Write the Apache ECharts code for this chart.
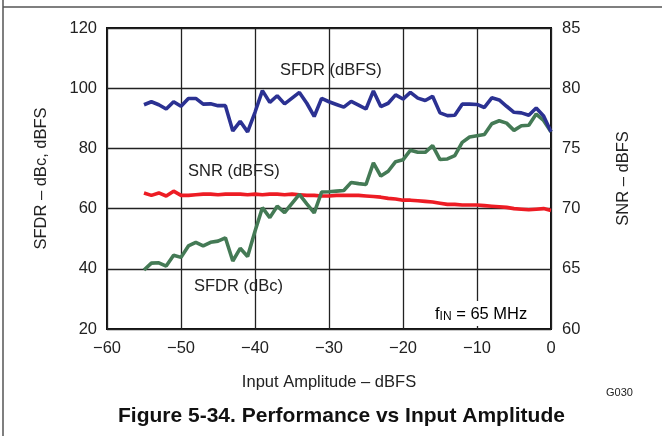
<!DOCTYPE html>
<html>
<head>
<meta charset="utf-8">
<script src="https://cdn.jsdelivr.net/npm/echarts@6/dist/echarts.min.js"></script>
<style>
html, body { margin: 0; padding: 0; background: #fff; }
#main { width: 662px; height: 436px; }
</style>
</head>
<body>
<div id="main"></div>
<script>
// input amplitude, dBFS
var amplitude = [-55, -54, -53, -52, -51, -50, -49, -48, -47, -46, -45, -44, -43, -42, -41, -40,
  -39, -38, -37, -36, -35, -34, -33, -32, -31, -30, -29, -28, -27, -26, -25, -24, -23, -22, -21, -20,
  -19, -18, -17, -16, -15, -14, -13, -12, -11, -10, -9, -8, -7, -6, -5, -4, -3, -2, -1, 0];

// SFDR (dBFS), left axis
var sfdrDbfs = [94.5, 95.5, 94.5, 93.1, 95.5, 94, 96.6, 96.6, 94.7, 94.8, 94.2, 94.2, 85.8, 89, 85.5, 92,
  99.2, 95.3, 97.5, 94.8, 96.7, 98.6, 95, 90.6, 96.6, 95.5, 94.6, 93.7, 95.6, 94.4, 93.1, 99.1, 93.9, 95, 97.8, 96.4,
  98.6, 96.7, 95.9, 97.3, 91.8, 90.9, 91, 94.7, 94.7, 94.6, 93.6, 96.8, 96.1, 94, 92, 91.8, 91, 93.4, 90.8, 85.5];

// SFDR (dBc), left axis
var sfdrDbc = [39.6, 41.9, 42, 40.9, 44.5, 43.8, 47.6, 48.8, 47.6, 48.8, 49.2, 50.3, 42.6, 46.8, 44.1, 52.5,
  60.3, 57, 60.8, 58.7, 61.7, 64.7, 61.6, 58.6, 65.5, 65.6, 65.8, 66, 68.7, 68.3, 68, 75.2, 70.8, 72.4, 75.6, 76.2,
  79.4, 78.7, 78.7, 80.9, 76.3, 76.5, 77.6, 82, 83.8, 84.2, 84.6, 88.2, 89.2, 88.4, 86, 87.5, 87.7, 91.4, 89.3, 85.5];

// SNR (dBFS), right axis
var snr = [71.3, 71.1, 71.3, 71.05, 71.45, 71.1, 71.1, 71.15, 71.2, 71.2, 71.15, 71.2, 71.2, 71.2, 71.15, 71.2,
  71.15, 71.2, 71.2, 71.15, 71.2, 71.15, 71.1, 71.1, 71.05, 71.05, 71.1, 71.1, 71.1, 71.1, 71.05, 71.0, 70.95, 70.85, 70.8, 70.7,
  70.7, 70.65, 70.6, 70.55, 70.45, 70.35, 70.35, 70.3, 70.3, 70.3, 70.25, 70.2, 70.15, 70.1, 70.0, 69.95, 69.9, 69.95, 70.0, 69.85];

function pairs(ys) {
  return amplitude.map(function (x, i) { return [x, ys[i]]; });
}

var font = 'Liberation Sans, Arial, Helvetica, sans-serif';
var fs = 16.5;
function minus(v) { return String(v).replace('-', '\u2212'); }

var option = {
  animation: false,
  backgroundColor: '#fff',
  grid: {
    left: 107,
    right: 111,
    top: 28,
    bottom: 107,
    show: true,
    borderColor: '#111',
    borderWidth: 2
  },
  xAxis: {
    type: 'value',
    min: -60,
    max: 0,
    interval: 10,
    name: 'Input Amplitude \u2013 dBFS',
    nameLocation: 'middle',
    nameGap: 45,
    nameTextStyle: { fontFamily: font, fontSize: fs, color: '#222' },
    axisLine: { show: false },
    axisTick: { show: false },
    axisLabel: { fontFamily: font, fontSize: fs, color: '#222', margin: 11, formatter: minus },
    splitLine: { lineStyle: { color: '#222', width: 1.3 } }
  },
  yAxis: [{
    type: 'value',
    min: 20,
    max: 120,
    interval: 20,
    name: 'SFDR \u2013 dBc, dBFS',
    nameLocation: 'middle',
    nameGap: 57,
    nameTextStyle: { fontFamily: font, fontSize: fs, color: '#222' },
    axisLine: { show: false },
    axisTick: { show: false },
    axisLabel: { fontFamily: font, fontSize: fs, color: '#222', margin: 10 },
    splitLine: { lineStyle: { color: '#222', width: 1.3 } }
  }, {
    type: 'value',
    min: 60,
    max: 85,
    interval: 5,
    name: 'SNR \u2013 dBFS',
    nameLocation: 'middle',
    nameGap: 64,
    nameRotate: 90,
    nameTextStyle: { fontFamily: font, fontSize: fs, color: '#222' },
    axisLine: { show: false },
    axisTick: { show: false },
    axisLabel: { fontFamily: font, fontSize: fs, color: '#222', margin: 11 },
    splitLine: { show: false }
  }],
  series: [{
    name: 'SNR (dBFS)',
    type: 'line',
    yAxisIndex: 1,
    data: pairs(snr),
    showSymbol: false,
    lineStyle: { color: '#ed1c24', width: 3.6 },
    z: 2
  }, {
    name: 'SFDR (dBc)',
    type: 'line',
    yAxisIndex: 0,
    data: pairs(sfdrDbc),
    showSymbol: false,
    lineStyle: { color: '#447a55', width: 3.6 },
    z: 3
  }, {
    name: 'SFDR (dBFS)',
    type: 'line',
    yAxisIndex: 0,
    data: pairs(sfdrDbfs),
    showSymbol: false,
    lineStyle: { color: '#2b3192', width: 3.6 },
    z: 4
  }],
  graphic: [
    { type: 'line', shape: { x1: 3, y1: 0, x2: 3, y2: 436 }, style: { stroke: '#555', lineWidth: 1.5 } },
    { type: 'line', shape: { x1: 3, y1: 7, x2: 662, y2: 7 }, style: { stroke: '#555', lineWidth: 1.5 } },
    { type: 'text', left: 280, top: 62, style: { text: 'SFDR (dBFS)', font: fs + 'px ' + font, fill: '#222' } },
    { type: 'text', left: 188, top: 163, style: { text: 'SNR (dBFS)', font: fs + 'px ' + font, fill: '#222' } },
    { type: 'text', left: 194, top: 278, style: { text: 'SFDR (dBc)', font: fs + 'px ' + font, fill: '#222' } },
    { type: 'text', left: 431, top: 301, z: 10, style: {
        text: '{a|f}{b|IN}{a| = 65 MHz}',
        backgroundColor: '#fff',
        padding: [2, 4, 3, 4],
        rich: {
          a: { fontFamily: font, fontSize: fs, color: '#222', lineHeight: 20, verticalAlign: 'bottom' },
          b: { fontFamily: font, fontSize: 12, color: '#222', lineHeight: 13, verticalAlign: 'bottom' }
        }
      } },
    { type: 'text', left: 606, top: 387, style: { text: 'G030', font: '11px ' + font, fill: '#222' } },
    { type: 'text', left: 118, top: 406, style: { text: 'Figure 5-34. Performance vs Input Amplitude', font: 'bold 21px ' + font, fill: '#111' } }
  ]
};

var chart = echarts.init(document.getElementById('main'), null, { renderer: 'canvas' });
chart.setOption(option);
</script>
</body>
</html>
